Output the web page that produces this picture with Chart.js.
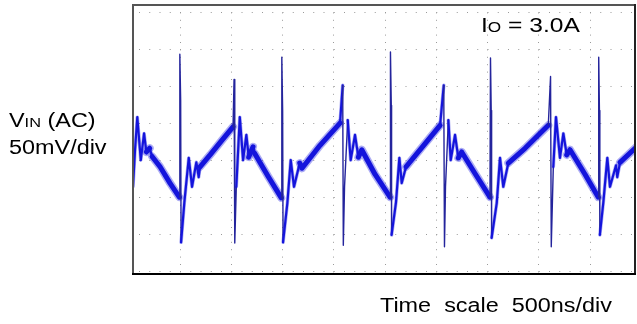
<!DOCTYPE html>
<html>
<head>
<meta charset="utf-8">
<script src="https://cdn.jsdelivr.net/npm/chart.js@4"></script>
<style>
  body { margin: 0; background: #fff; }
  #wrap { position: relative; width: 637px; height: 324px; font-family: "Liberation Sans", Arial, sans-serif; color: #000; }
  #scope { position: absolute; left: 0; top: 0; }
  .lbl { position: absolute; white-space: pre; transform-origin: left top; line-height: 1; }
  .sub { font-size: 0.7em; }
</style>
</head>
<body>
<div id="wrap">
  <canvas id="scope" width="637" height="324"></canvas>
  <div class="lbl" id="vin-label" style="left:9px; top:111px; font-size:19.5px; transform:scaleX(1.2)">V<span class="sub">IN</span> (AC)</div>
  <div class="lbl" id="vdiv-label" style="left:9px; top:138px; font-size:19.5px; transform:scaleX(1.2)">50mV/div</div>
  <div class="lbl" id="io-label" style="left:481px; top:14px; font-size:21px; transform:scaleX(1.17)">I<span class="sub">O</span> = 3.0A</div>
  <div class="lbl" id="time-label" style="left:380px; top:296px; font-size:19.5px; transform:scaleX(1.2)">Time  scale  500ns/div</div>
</div>
<script>
// grid divisions: 500 ns/div horizontally, 50 mV/div vertically
const gridTimesNs = [500, 1000, 1500, 2000, 2500, 3000, 3500, 4000, 4500];
const gridLevelsMv = [-150, -100, -50, 0, 50, 100, 150, 200];

// visible window of the capture
const timeRange = [41, 4939];
const levelRange = [-153.8, 209.5];

// V_IN ripple (time in ns, level in mV)
const timeNs = [
  41, 61, 83, 117, 149, 171, 204, 227, 305, 402,
  493, 498, 506, 510, 542, 585, 617, 659, 682, 695,
  793, 910, 1017, 1027, 1034, 1049, 1083, 1115, 1147, 1170,
  1212, 1229, 1360, 1488, 1493, 1501, 1505, 1547, 1580, 1612,
  1668, 1690, 1866, 2061, 2087, 2093, 2105, 2136, 2165, 2207,
  2240, 2273, 2402, 2549, 2553, 2561, 2564, 2607, 2640, 2663,
  2705, 2871, 3037, 3073, 3080, 3090, 3118, 3141, 3183, 3215,
  3248, 3378, 3524, 3529, 3536, 3540, 3590, 3622, 3654, 3703,
  3866, 4093, 4115, 4122, 4142, 4168, 4207, 4240, 4273, 4305,
  4451, 4581, 4585, 4592, 4596, 4630, 4669, 4695, 4754, 4766,
  4793, 4956
];
const vinMv = [
  -36, 14, 58, 0, 36, 11, 16, 5, -9, -31,
  -50, 143, 81, -111, -57, 3, -36, -3, -23, -9,
  7, 27, 45, 109, -112, -36, 58, 0, 34, 4,
  18, 9, -22, -51, 139, 67, -111, -58, 0, -36,
  -4, -11, 20, 50, 101, -115, -36, 54, 0, 34,
  4, 14, -19, -50, 146, 74, -101, -57, 3, -31,
  -9, 19, 47, 101, -117, -36, 54, 0, 34, 3,
  11, -18, -50, 138, 67, -105, -58, 3, -36, -4,
  16, 47, 113, -117, -9, 58, 3, 36, 7, 14,
  -19, -50, 139, 67, -101, -57, 3, -36, -7, -23,
  -3, 18
];

const points = timeNs.map((t, i) => ({ x: t, y: vinMv[i] }));

// steep edges are the thin switching spikes, shallow parts the thick noisy ramp
function slopeOf(c) {
  const dx = Math.abs(c.p1.x - c.p0.x) || 0.01;
  return Math.abs(c.p1.y - c.p0.y) / dx;
}

const frame = {
  id: 'frame',
  afterDraw(chart) {
    const { ctx, chartArea: a } = chart;
    ctx.save();
    ctx.lineCap = 'square';
    ctx.strokeStyle = '#555';
    ctx.lineWidth = 2;
    ctx.beginPath(); ctx.moveTo(a.left, a.top); ctx.lineTo(a.right, a.top); ctx.stroke();
    ctx.beginPath(); ctx.moveTo(a.left, a.top); ctx.lineTo(a.left, a.bottom); ctx.stroke();
    ctx.strokeStyle = '#222';
    ctx.beginPath(); ctx.moveTo(a.right, a.top); ctx.lineTo(a.right, a.bottom); ctx.stroke();
    ctx.strokeStyle = '#000';
    ctx.beginPath(); ctx.moveTo(a.left, a.bottom); ctx.lineTo(a.right, a.bottom); ctx.stroke();
    ctx.restore();
  }
};

new Chart(document.getElementById('scope'), {
  type: 'line',
  data: {
    datasets: [{
      // trace
      data: points,
      borderColor: '#1414dc',
      borderWidth: 5,
      borderJoinStyle: 'round',
      borderCapStyle: 'round',
      pointRadius: 0,
      tension: 0,
      fill: false,
      clip: 0,
      order: 0,
      segment: {
        borderWidth: c => { const s = slopeOf(c); return s > 20 ? 1.4 : s > 2.5 ? 2.2 : 5; },
        borderColor: c => slopeOf(c) > 20 ? '#24249c' : '#1414dc'
      }
    }, {
      // noise halo round the same trace
      data: points,
      borderColor: 'rgba(70, 70, 230, 0.45)',
      borderWidth: 8,
      borderJoinStyle: 'round',
      borderCapStyle: 'round',
      pointRadius: 0,
      tension: 0,
      fill: false,
      clip: 0,
      order: 1,
      segment: {
        borderWidth: c => { const s = slopeOf(c); return s > 20 ? 0.01 : s > 2.5 ? 3.5 : 8; },
        borderColor: c => slopeOf(c) > 20 ? 'rgba(0,0,0,0)' : 'rgba(70, 70, 230, 0.45)'
      }
    }]
  },
  options: {
    responsive: false,
    animation: false,
    layout: { padding: { left: 133, top: 5, right: 2, bottom: 50 } },
    plugins: { legend: { display: false }, tooltip: { enabled: false } },
    scales: {
      x: {
        type: 'linear',
        min: timeRange[0],
        max: timeRange[1],
        afterBuildTicks: s => { s.ticks = gridTimesNs.map(v => ({ value: v })); },
        ticks: { display: false },
        grid: { color: '#9a9a9a', lineWidth: 1, drawTicks: false },
        border: { display: false, dash: [1, 6.4] }
      },
      y: {
        type: 'linear',
        min: levelRange[0],
        max: levelRange[1],
        afterBuildTicks: s => { s.ticks = gridLevelsMv.map(v => ({ value: v })); },
        ticks: { display: false },
        grid: { color: '#9a9a9a', lineWidth: 1, drawTicks: false },
        border: { display: false, dash: [1, 9.25], dashOffset: 4.25 }
      }
    }
  },
  plugins: [frame]
});
</script>
</body>
</html>
